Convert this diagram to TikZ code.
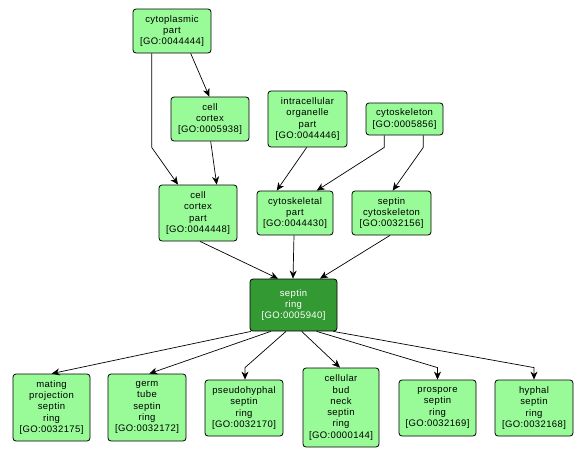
\documentclass[tikz,border=0pt]{standalone}
\usepackage{fontspec}
\setmainfont{Liberation Sans}
\newfontfamily\gofont[LetterSpace=4]{Liberation Sans}
\usetikzlibrary{arrows.meta}
\definecolor{lightgo}{HTML}{98FB98}
\definecolor{darkgo}{HTML}{339933}
\begin{document}
\begin{tikzpicture}[x=1pt,y=-1pt,
  gobox/.style={draw=black, line width=0.8pt, rounded corners=3pt, fill=lightgo,
    align=center, inner sep=0pt, font=\gofont\fontsize{9.5}{11.3}\selectfont},
  hibox/.style={gobox, fill=darkgo, text=white},
  arr/.style={draw=black, line width=0.7pt, -{Stealth[length=8pt,width=7pt,inset=2.5pt]}}]
\useasboundingbox (0,0) rectangle (587,458);
\fill[white] (0,0) rectangle (587,458);

\node[gobox, minimum width=78, minimum height=44] (cp) at (172,31) {cytoplasmic\\part\\{[GO:0044444]}};
\node[gobox, minimum width=78, minimum height=44] (cc) at (210,119) {cell\\cortex\\{[GO:0005938]}};
\node[gobox, minimum width=79, minimum height=56] (iop) at (307.5,119) {intracellular\\organelle\\part\\{[GO:0044446]}};
\node[gobox, minimum width=77, minimum height=32] (cs) at (404.5,119) {cytoskeleton\\{[GO:0005856]}};
\node[gobox, minimum width=78, minimum height=56] (ccp) at (198,213) {cell\\cortex\\part\\{[GO:0044448]}};
\node[gobox, minimum width=76, minimum height=44] (cskp) at (295,213) {cytoskeletal\\part\\{[GO:0044430]}};
\node[gobox, minimum width=79, minimum height=44] (sc) at (391.5,213) {septin\\cytoskeleton\\{[GO:0032156]}};
\node[hibox, minimum width=87, minimum height=52] (sr) at (293.5,305) {septin\\ring\\{[GO:0005940]}};
\node[gobox, minimum width=77, minimum height=67] (mp) at (51.5,407.5) {mating\\projection\\septin\\ring\\{[GO:0032175]}};
\node[gobox, minimum width=78, minimum height=67] (gt) at (147,407.5) {germ\\tube\\septin\\ring\\{[GO:0032172]}};
\node[gobox, minimum width=78, minimum height=56] (ph) at (244,408) {pseudohyphal\\septin\\ring\\{[GO:0032170]}};
\node[gobox, minimum width=76, minimum height=79] (cbn) at (341,407.5) {cellular\\bud\\neck\\septin\\ring\\{[GO:0000144]}};
\node[gobox, minimum width=77, minimum height=56] (ps) at (437.5,408) {prospore\\septin\\ring\\{[GO:0032169]}};
\node[gobox, minimum width=78, minimum height=56] (hy) at (534,408) {hyphal\\septin\\ring\\{[GO:0032168]}};

\draw[arr] ([xshift=-20.3]cp.south) -- ++(0,94) -- ([xshift=-20]ccp.north);
\draw[arr] ([xshift=18.7]cp.south) -- ([xshift=-0.7]cc.north);
\draw[arr] ([xshift=0.7]cc.south) -- ([xshift=18.7]ccp.north);
\draw[arr] ([xshift=-0.8]iop.south) -- ([xshift=-18.3]cskp.north);
\draw[arr] ([xshift=-20.2]cs.south) -- ++(0,12) -- ([xshift=21.7]cskp.north);
\draw[arr] ([xshift=18.8]cs.south) -- ++(0,12) -- ([xshift=1.2]sc.north);
\draw[arr] ([xshift=2]ccp.south) -- ([xshift=-15.5]sr.north);
\draw[arr] ([xshift=-1]cskp.south) -- ([xshift=-0.5]sr.north);
\draw[arr] ([xshift=-1.5]sc.south) -- ([xshift=26.5]sr.north);
\draw[arr] ([xshift=-42.5]sr.south) -- ([xshift=0.2]mp.north);
\draw[arr] ([xshift=-22.8]sr.south) -- ([xshift=2.3]gt.north);
\draw[arr] ([xshift=-7.5]sr.south) -- ([xshift=1,yshift=12]ph.north) -- ([xshift=1]ph.north);
\draw[arr] ([xshift=8.2]sr.south) -- ([xshift=-1]cbn.north);
\draw[arr] ([xshift=23.2]sr.south) -- ([yshift=12]ps.north) -- (ps.north);
\draw[arr] ([xshift=39.8]sr.south) -- ([yshift=12]hy.north) -- (hy.north);
\end{tikzpicture}
\end{document}
